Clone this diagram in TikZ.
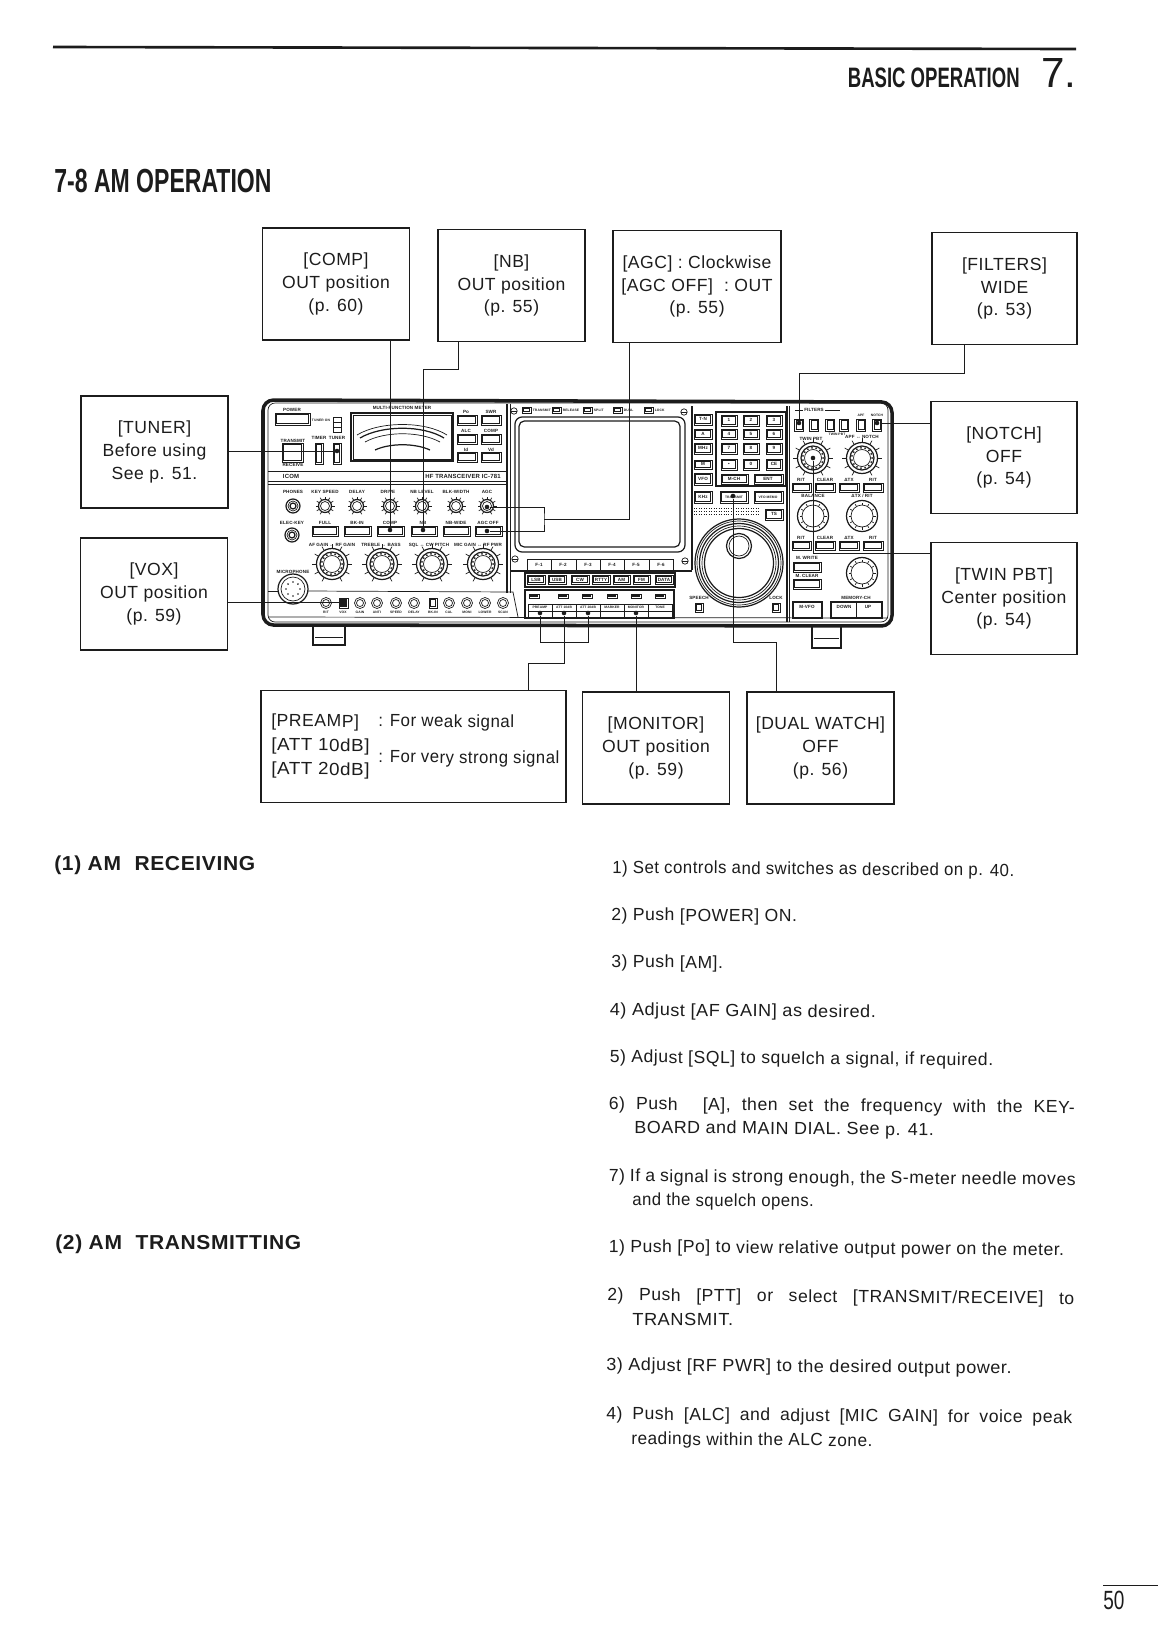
\documentclass[tikz,border=0pt]{standalone}
\usepackage{fontspec}
\usepackage{graphicx}
\setmainfont[LetterSpace=3]{Liberation Sans}
\setsansfont[LetterSpace=3]{Liberation Sans}
\newfontfamily\headfont{Liberation Sans}
\definecolor{icmInk}{HTML}{1C1C1C}
\newcommand{\panelKey}[4]{\draw[icm keyline] (#1,#2) rectangle +(#3,#4);\draw[icm keycore] (#1+1.5,#2+1.5) rectangle +(#3-3,#4-3);}
\tikzset{
  icm box/.style={draw=icmInk, line width=.65pt, inner sep=0pt, minimum width=2.94cm, minimum height=2.24cm, align=center, font=\fontsize{10}{13}\selectfont, text=icmInk},
  icm lead/.style={draw=icmInk, line width=.5pt},
  icm dot/.style={circle, fill=icmInk, inner sep=0pt, minimum size=2.6pt},
  icm outer/.style={draw=icmInk, line width=2pt},
  icm thin/.style={draw=icmInk, line width=.4pt},
  icm mid/.style={draw=icmInk, line width=.7pt},
  icm keyline/.style={draw=icmInk, line width=.5pt},
  icm keycore/.style={draw=icmInk, line width=.25pt},
  icm tiny/.style={font=\bfseries\fontsize{2.6}{3}\selectfont, text=icmInk, inner sep=0pt},
  icm micro/.style={font=\bfseries\fontsize{1.9}{2}\selectfont, text=icmInk, inner sep=0pt},
  icm cap/.style={font=\bfseries\fontsize{3.4}{4}\selectfont, text=icmInk, inner sep=0pt},
  icm body/.style={anchor=west, rotate=-.45, inner sep=0pt, font=\fontsize{10}{12}\selectfont, text=icmInk},
  icm head/.style={anchor=west, inner sep=0pt, font=\bfseries\fontsize{11.5}{13}\selectfont, text=icmInk},
  icm small knob/.pic={\draw[icm mid] (0,0) circle (6.5);\draw[icm thin] (0,0) circle (4.5);\foreach \a in {120,150,...,420}{\draw[icm thin] (\a:7) -- (\a:9.5);}},
  icm jack/.pic={\draw[icm mid] (0,0) circle (7);\draw[icm thin] (0,0) circle (5);\draw[icm mid] (0,0) circle (3);},
  icm big knob/.pic={\draw[icm mid] (0,0) circle (15.5);\draw[icm mid] (0,0) circle (12);\draw[icm thin] (0,0) circle (8.5);\foreach \a in {120,150,...,420}{\draw[icm thin] (\a:16) -- (\a:20);}\foreach \a in {0,24,...,336}{\fill[icmInk] (\a:10.2) circle (1);}},
  icm plain knob/.pic={\draw[icm mid] (0,0) circle (15.5);\draw[icm thin] (0,0) circle (11);\foreach \a in {0,30,...,330}{\draw[icm thin] (\a:11) -- (\a:13.5);}},
  icm jacklet/.pic={\draw[icm thin] (0,0) circle (5.5);\draw[icm thin] (0,0) circle (3.5);},
}

\begin{document}
\begin{tikzpicture}[x=.02cm,y=-.02cm]
  \useasboundingbox (0,0) rectangle (1158,1650);
  % page header
  \draw[draw=icmInk,line width=1.5pt] (53,47) -- (1076,49);
  \node[inner sep=0pt,anchor=east,text=icmInk] (pageChapter) at (1020,78) {\scalebox{.66}[1]{\headfont\bfseries\fontsize{16}{18}\selectfont BASIC OPERATION}};
  \node[inner sep=0pt,anchor=east,text=icmInk] (pageSeven) at (1077,73) {\headfont\fontsize{24}{26}\selectfont 7.};
  \node[inner sep=0pt,anchor=west,text=icmInk] (pageTitle) at (54,181) {\scalebox{.69}[1]{\headfont\bfseries\fontsize{19}{22}\selectfont 7-8 AM OPERATION}};
  % control boxes
  \node[icm box] (boxComp) at (336,284) {[COMP]\\OUT position\\(p. 60)};
  \node[icm box] (boxNb) at (511.5,285.5) {[NB]\\OUT position\\(p. 55)};
  \node[icm box,minimum width=3.36cm] (boxAgc) at (697,286.5) {[AGC] : Clockwise\\{[AGC OFF]\,\, : OUT}\\(p. 55)};
  \node[icm box,minimum width=2.9cm] (boxFilters) at (1004.5,288.5) {[FILTERS]\\WIDE\\(p. 53)};
  \node[icm box] (boxTuner) at (154.5,452) {[TUNER]\\Before using\\See p. 51.};
  \node[icm box] (boxVox) at (154,594) {[VOX]\\OUT position\\(p. 59)};
  \node[icm box,minimum width=2.92cm] (boxNotch) at (1004,457.5) {[NOTCH]\\OFF\\(p. 54)};
  \node[icm box,minimum width=2.92cm] (boxTwin) at (1004,598.5) {[TWIN PBT]\\Center position\\(p. 54)};
  \node[icm box,minimum width=6.1cm] (boxPreamp) at (413.5,746.5) {};
  \node[icm box] (boxMonitor) at (656,748) {[MONITOR]\\OUT position\\(p. 59)};
  \node[icm box] (boxDual) at (820.5,748) {[DUAL WATCH]\\OFF\\(p. 56)};
  \node[icm body,rotate=0] (txtPreamp) at (271,722) {[PREAMP]};
  \node[icm body,rotate=0] (txtWeak) at (378,722) {\scalebox{.96}[1]{: For weak signal}};
  \node[icm body,rotate=0] (txtAttTen) at (271,746) {\scalebox{1.07}[1]{[ATT 10dB]}};
  \node[icm body,rotate=0] (txtAttTwenty) at (271,770) {\scalebox{1.07}[1]{[ATT 20dB]}};
  \node[icm body,rotate=0] (txtStrong) at (378,758) {\scalebox{.95}[1]{: For very strong signal}};
  % transceiver body
  \draw[icm outer,rounded corners=6pt] (263,400) -- (892,402) -- (892,626) -- (263,625) -- cycle;
  \draw[icm thin,rounded corners=4pt] (268,403) rectangle (888,622);
  \draw[icm mid] (313,626) -- (313,645) -- (345,645) -- (345,626);
  \draw[icm thin] (315,637) -- (343,637);
  \draw[icm mid] (812,627) -- (812,648) -- (841,648) -- (841,627);
  \draw[icm thin] (814,638) -- (839,638);
  \draw[icm mid] (507,404) -- (507,593);
  \draw[icm thin] (510,404) -- (510,593);
  \draw[icm thin] (268,471) -- (507,471);
  \draw[icm thin] (268,481) -- (507,481);
  \draw[icm thin] (268,484) -- (507,484);
  \draw[icm thin] (268,591) -- (278,591);
  \draw[icm thin] (308,591) -- (513,592) -- (518,617);
  \draw[icm thin] (268,617) -- (888,618);
  % meter side
  \panelKey{275}{413}{35}{12}
  \draw[icm thin] (333,417) rectangle (341,432);
  \draw[icm thin] (333,422) -- (341,422) (333,427) -- (341,427);
  \panelKey{282}{443}{21}{19}
  \panelKey{315}{443}{8}{21}
  \panelKey{333}{443}{8}{21}
  \draw[icm mid] (351,413) rectangle (453,461);
  \draw[icm thin] (353,415) rectangle (451,459);
  \draw[icm thin] (357,435) .. controls (380,421) and (425,421) .. (447,435);
  \draw[icm mid] (360,438) .. controls (382,425) and (423,425) .. (444,438);
  \draw[icm thin] (365,442) .. controls (385,431) and (420,431) .. (440,442);
  \draw[icm mid] (375,450) .. controls (390,443) and (415,443) .. (430,450);
  \foreach \y in {415,434,452}{\panelKey{457}{\y}{20}{10}\panelKey{481}{\y}{20}{10}}
  \foreach \x/\t/\y in {292/POWER/410,402/MULTI-FUNCTION METER/408,293/TRANSMIT/440.5,293/RECEIVE/465,319/TIMER/438,337/TUNER/438,466/Po/412,491/SWR/412,466/ALC/431,491/COMP/431,466/Id/449.5,491/Vd/449.5}{\node[icm tiny] (lbl\x\y) at (\x,\y) {\t};}
  \node[icm micro] (lblTunerOn) at (321,420) {TUNER ON};
  \node[icm cap] (lblIcom) at (291,476) {ICOM};
  \node[icm cap,anchor=east] (lblModel) at (501,476) {HF TRANSCEIVER IC-781};
  % knob rows
  \pic at (293,506) {icm jack};
  \pic at (292,535) {icm jack};
  \foreach \x in {325,357,390,422,456,487}{\pic at (\x,506) {icm small knob};}
  \foreach \x/\t in {293/PHONES,325/KEY SPEED,357/DELAY,388/DRIVE,422/NB LEVEL,456/BLK-WIDTH,487/AGC}{\node[icm tiny] (lblUp\x) at (\x,492) {\t};}
  \foreach \x/\w in {312/26,344/27,377/27,411/26,443/27,475/27}{\panelKey{\x}{526}{\w}{10}}
  \foreach \x/\t in {292/ELEC-KEY,325/FULL,357/BK-IN,390/COMP,423/NB,456/NB-WIDE,488/AGC OFF}{\node[icm tiny] (lblMid\x) at (\x,523) {\t};}
  \foreach \x in {332,382,432,483}{\pic at (\x,564) {icm big knob};}
  \foreach \x/\t in {332/AF GAIN ↔ RF GAIN,381/TREBLE ↔ BASS,429/SQL ↔ CW PITCH,478/MIC GAIN ↔ RF PWR}{\node[icm tiny] (lblLow\x) at (\x,545) {\t};}
  \node[icm tiny] (lblMic) at (293,572) {MICROPHONE};
  \draw[icm mid] (293,589) circle (15);
  \draw[icm thin] (293,589) circle (12);
  \foreach \a in {0,45,...,315}{\fill[icmInk] (293,589) ++(\a:7) circle (.9);}
  \foreach \x in {326,360,377,396,414,449,467,485,503}{\pic at (\x,603) {icm jacklet};}
  \panelKey{339}{598}{9}{10}
  \fill[icmInk] (341,600) rectangle +(5,6);
  \panelKey{429}{598}{8}{10}
  \foreach \x/\t in {326/RIT,343/VOX,360/GAIN,377/ANTI,396/SPEED,414/DELAY,433/BK-IN,449/CAL,467/MONI,485/LOWER,503/SCAN}{\node[icm micro] (lblRow\x) at (\x,612) {\t};}
  % screen
  \draw[icm mid,rounded corners=4pt] (515,417) rectangle (685,552);
  \draw[icm mid,rounded corners=3pt] (519,421) rectangle (680,547);
  \foreach \x/\y in {514/411,684/412,515/559,685/561}{\draw[icm thin] (\x,\y) circle (3.2);\draw[icm thin] (\x-3,\y) -- (\x+3,\y);}
  \foreach \x/\t in {522/TRANSMIT,552/RELEASE,583/SPLIT,613/DUAL,644/LOCK}{\panelKey{\x}{407}{9}{6}\node[icm micro,anchor=west] (lblTop\x) at (\x+10.5,410) {\t};}
  \draw[icm thin] (527,559) rectangle (673,570);
  \foreach \x/\n in {527/1,551/2,576/3,600/4,624/5,649/6}{\node[icm tiny,minimum width=.48cm] (lblF\n) at (\x+12,565) {F-\n};\draw[icm thin] (\x,559) -- (\x,570);}
  \draw[icm mid] (510,571) -- (692,571);
  \draw[icm mid] (525,573) rectangle (675,587);
  \foreach \x/\w/\t in {527/18/LSB,548/18/USB,571/18/CW,592/18/RTTY,613/17/AM,633/17/FM,655/18/DATA}{\panelKey{\x}{575}{\w}{9}\node[icm tiny] (lblMode\x) at (\x+\w/2,579.5) {\t};}
  \draw[icm mid] (525,590) rectangle (674,618);
  \foreach \x in {534,563,587,612,636,660}{\panelKey{\x-5}{594}{10}{4}}
  \draw[icm thin] (528,604) rectangle (672,617);
  \foreach \x/\t in {540/PREAMP,564/ATT 10dB,588/ATT 20dB,612/MARKER,636/MONITOR,660/TONE}{\node[icm micro] (lblRf\x) at (\x,607.5) {\t};\draw[icm thin] (\x-12,604) -- (\x-12,617);}
  \draw[icm thin] (528,611) -- (672,611);
  % keypad
  \draw[icm mid] (692,406) -- (692,570);
  \draw[icm mid] (787,406) -- (787,622);
  \draw[icm thin] (789.5,406) -- (789.5,622);
  \foreach \y/\h in {414/11,429/10,443/11,460/9,473/12,491/12}{\panelKey{694}{\y}{18}{\h}}
  \draw[icm mid] (716,412) rectangle (786,486);
  \foreach \y/\h in {415/11,429/10,443/11,459/11}{\foreach \x in {721,743,766}{\panelKey{\x}{\y}{16}{\h}}}
  \panelKey{721}{474}{27}{10}
  \panelKey{754}{474}{29}{10}
  \panelKey{720}{491}{28}{12}
  \panelKey{754}{491}{29}{12}
  \panelKey{765}{509}{18}{11}
  \foreach \x/\y/\t in {729/420/1,751/420/2,774/420/3,729/434/4,751/434/5,774/434/6,729/448/7,751/448/8,774/448/9,729/464/\textbullet,751/464/0,774/464/CE,734/479/M-CH,768/479/ENT,774/514/TS,703/419/T-N,703/434/A,703/448/MHz,703/464/M,703/479/VFO,703/497/KHz}{\node[icm tiny] (lblKey\x\y) at (\x,\y) {\t};}
  \node[icm micro] (lblKeyTx) at (734,497) {TRANSMIT};
  \node[icm micro] (lblKeyVfo) at (768,497) {VFO MEMO};
  \foreach \y in {508,511,514}{\draw[icm thin,densely dotted] (694,\y) -- (758,\y);}
  % main dial
  \foreach \r/\s in {44/icm mid,42/icm thin,39.5/icm mid,37/icm thin,34.5/icm mid}{\draw[\s] (739,563) circle (\r);}
  \draw[icm mid] (739,546) circle (12.5);
  \draw[icm thin] (739,546) circle (10);
  \panelKey{695}{603}{8}{9}
  \panelKey{772}{603}{8}{9}
  \node[icm tiny] (lblSpeech) at (699,598) {SPEECH};
  \node[icm tiny] (lblLock) at (776,598) {LOCK};
  % filter side
  \foreach \x in {799,814,830,844,861,877}{\panelKey{\x-4.5}{419}{9}{12}}
  \node[icm tiny] (lblFilters) at (814,410) {FILTERS};
  \draw[icm thin] (795,410) -- (803,410) (825,410) -- (840,410);
  \node[icm micro] (lblNotch) at (877,415.5) {NOTCH};
  \node[icm micro] (lblApf) at (861,415.5) {APF};
  \node[icm micro] (lblTwinSw) at (837,434) {TWIN PBT};
  \node[icm tiny] (lblTwin) at (811,438.5) {TWIN PBT};
  \node[icm tiny] (lblApfKnob) at (862,437) {APF ↔ NOTCH};
  \foreach \x in {813,862}{\pic at (\x,458) {icm big knob};}
  \foreach \y in {483,541}{\foreach \x/\w in {792/19,815/20,839/20,863/20}{\panelKey{\x}{\y}{\w}{9}}}
  \foreach \x/\t in {825/CLEAR,849/ΔTX,873/RIT,801/RIT}{\node[icm tiny] (lblRitA\x) at (\x,480) {\t};\node[icm tiny] (lblRitB\x) at (\x,538) {\t};}
  \node[icm tiny] (lblBalance) at (813,496) {BALANCE};
  \node[icm tiny] (lblDelta) at (862,496) {ΔTX / RIT};
  \foreach \x in {813,862}{\pic at (\x,516) {icm plain knob};}
  \pic at (862,573) {icm plain knob};
  \panelKey{793}{562}{28}{10}
  \panelKey{793}{579}{28}{10}
  \node[icm tiny] (lblWrite) at (807,558) {M. WRITE};
  \node[icm tiny] (lblClear) at (807,576) {M. CLEAR};
  \draw[icm mid] (793,602) rectangle (822,618);
  \draw[icm mid] (831,602) rectangle (882,618);
  \draw[icm thin] (856,602) -- (856,618);
  \node[icm tiny] (lblVfo) at (807,607) {M-VFO};
  \node[icm tiny] (lblDown) at (844,607) {DOWN};
  \node[icm tiny] (lblUp) at (868,607) {UP};
  \node[icm tiny] (lblMem) at (856,598) {MEMORY-CH};
  % dots and leads
  \foreach \n/\x/\y in {Tuner/337/451,Vox/343/602,Comp/390/530,Nb/423/530,Agc/487/507,AgcOff/487/531,Filters/799/423,Notch/877/423,Twin/813/458,Dual/733/496,Preamp/540/613,AttTen/564/613,AttTwenty/588/613,Monitor/636/613}{\node[icm dot] (dot\n) at (\x,\y) {};}
  \coordinate (agcJoin) at (544,519);
  \coordinate (agcTop) at (629,343);
  \coordinate (nbTop) at (458,342);
  \coordinate (nbBend) at (423,369);
  \coordinate (filtersTop) at (964,345);
  \coordinate (filtersBend) at (799,373);
  \coordinate (attBend) at (564,663);
  \coordinate (attFoot) at (528,691);
  \coordinate (preBend) at (540,642);
  \coordinate (dualBend) at (733,642);
  \coordinate (dualFoot) at (776,692);
  \draw[icm lead] (dotTuner) -- (dotTuner -| boxTuner.east);
  \draw[icm lead] (dotVox) -- (dotVox -| boxVox.east);
  \draw[icm lead] (dotComp) -- (dotComp |- boxComp.south);
  \draw[icm lead] (dotNb) -- (nbBend) -| (nbTop);
  \draw[icm lead] (dotAgc) -| (agcJoin) |- (dotAgcOff);
  \draw[icm lead] (agcJoin) -| (agcTop);
  \draw[icm lead] (dotFilters) -- (filtersBend) -| (filtersTop);
  \draw[icm lead] (dotNotch) -- (dotNotch -| boxNotch.west);
  \draw[icm lead] (dotTwin) |- (boxTwin.west |- 0,553);
  \draw[icm lead] (dotDual) -- (dualBend) -| (dualFoot);
  \draw[icm lead] (dotPreamp) -- (preBend) -| (dotAttTwenty);
  \draw[icm lead] (dotAttTen) -- (attBend) -| (attFoot);
  \draw[icm lead] (dotMonitor) -- (dotMonitor |- boxMonitor.north);
  % procedure text
  \node[icm head] (headRx) at (54,865) {\scalebox{1.04}[1]{(1) AM\,\, RECEIVING}};
  \node[icm head] (headTx) at (55,1244) {\scalebox{1.04}[1]{(2) AM\,\, TRANSMITTING}};
  \node[icm body] (rxOne) at (612,868.5) {\scalebox{.955}[1]{1) Set controls and switches as described on p. 40.}};
  \node[icm body] (rxTwo) at (611,916) {2) Push [POWER] ON.};
  \node[icm body] (rxThree) at (611,963) {3) Push [AM].};
  \node[icm body] (rxFour) at (609.5,1011) {\scalebox{1.03}[1]{4) Adjust [AF GAIN] as desired.}};
  \node[icm body] (rxFive) at (609.5,1058) {5) Adjust [SQL] to squelch a signal, if required.};
  \node[icm body] (rxSix) at (608.5,1105) {\makebox[9.32cm][s]{6) Push \, [A], then set the frequency with the KEY-}};
  \node[icm body] (rxSixB) at (634,1128.5) {\scalebox{1.02}[1]{BOARD and MAIN DIAL. See p. 41.}};
  \node[icm body] (rxSeven) at (608.5,1177) {\makebox[9.34cm][s]{7) If a signal is strong enough, the S-meter needle moves}};
  \node[icm body] (rxSevenB) at (632,1201) {\scalebox{.95}[1]{and the squelch opens.}};
  \node[icm body] (txOne) at (608.5,1247.5) {1) Push [Po] to view relative output power on the meter.};
  \node[icm body] (txTwo) at (607,1296) {\makebox[9.34cm][s]{2) Push [PTT] or select [TRANSMIT/RECEIVE] to}};
  \node[icm body] (txTwoB) at (632,1319) {\scalebox{1.04}[1]{TRANSMIT.}};
  \node[icm body] (txThree) at (606,1366) {\scalebox{1.026}[1]{3) Adjust [RF PWR] to the desired output power.}};
  \node[icm body] (txFour) at (606,1415) {\makebox[9.32cm][s]{4) Push [ALC] and adjust [MIC GAIN] for voice peak}};
  \node[icm body] (txFourB) at (631,1440) {\scalebox{.98}[1]{readings within the ALC zone.}};
  % page number
  \draw[icm thin] (1103,1585) -- (1158,1585);
  \node[inner sep=0pt,anchor=west,text=icmInk] (pageNum) at (1103,1600) {\scalebox{.72}[1]{\headfont\fontsize{15}{17}\selectfont 50}};
\end{tikzpicture}
\end{document}
